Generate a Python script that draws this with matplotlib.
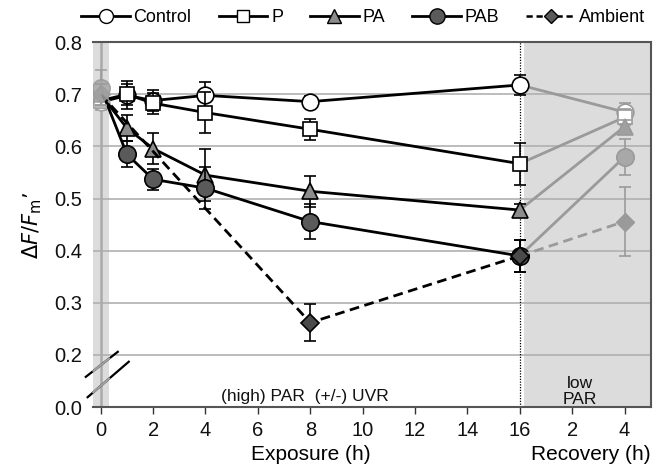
import matplotlib
matplotlib.use("Agg")
import matplotlib.pyplot as plt
from matplotlib.lines import Line2D
import numpy as np

plt.rcParams['font.family'] = ['Liberation Sans', 'DejaVu Sans']

# exposure times (h) and recovery time position (16 h + 4 h recovery)
x_exp = [0, 1, 2, 4, 8, 16]
x_exp_amb = [0, 8, 16]
x_rec = 20

control = [0.685, 0.698, 0.688, 0.698, 0.686, 0.718]
control_err = [0.015, 0.027, 0.02, 0.025, 0.01, 0.02]
control_rec, control_rec_err = 0.666, 0.018

p = [0.688, 0.700, 0.683, 0.665, 0.633, 0.567]
p_err = [0.015, 0.02, 0.02, 0.04, 0.02, 0.04]
p_rec, p_rec_err = 0.656, 0.015

pa = [0.700, 0.635, 0.596, 0.545, 0.514, 0.478]
pa_err = [0.02, 0.025, 0.03, 0.05, 0.03, 0.012]
pa_rec, pa_rec_err = 0.638, 0.012

pab = [0.712, 0.585, 0.537, 0.520, 0.456, 0.390]
pab_err = [0.035, 0.025, 0.02, 0.04, 0.033, 0.03]
pab_rec, pab_rec_err = 0.580, 0.035

amb = [0.700, 0.262, 0.390]
amb_err = [0.02, 0.036, 0.03]
amb_rec, amb_rec_err = 0.456, 0.067

xticks = [0, 2, 4, 6, 8, 10, 12, 14, 16, 18, 20]
xticklabels = ['0', '2', '4', '6', '8', '10', '12', '14', '16', '2', '4']
yticks = [0.1, 0.2, 0.3, 0.4, 0.5, 0.6, 0.7, 0.8]
yticklabels = ['0.0', '0.2', '0.3', '0.4', '0.5', '0.6', '0.7', '0.8']

fig = plt.figure(figsize=(6.54, 4.69), dpi=100)
ax = fig.add_axes([0.142, 0.132, 0.853, 0.778])
ax.set_xlim(-0.3, 21.0)
ax.set_ylim(0.1, 0.8)

GRAYBG = '#dcdcdc'
ax.axvspan(16.15, 21.0, color=GRAYBG, zorder=0, lw=0)
ax.axvspan(-0.3, 0.3, color=GRAYBG, zorder=0, lw=0)
ax.axvline(0, color='#aaaaaa', lw=1.8, zorder=0.5)
ax.axvline(16, color='black', lw=0.9, ls=(0, (1, 1.2)), zorder=0.6)
for yv in [0.2, 0.3, 0.4, 0.5, 0.6, 0.7]:
    ax.axhline(yv, color='#b0b0b0', lw=1.2, zorder=0.4)

series = [
    (control, control_err, control_rec, control_rec_err, 'o', 'white', 'white', 12, '-'),
    (p, p_err, p_rec, p_rec_err, 's', 'white', 'white', 9.5, '-'),
    (pa, pa_err, pa_rec, pa_rec_err, '^', '#8c8c8c', '#a0a0a0', 12, '-'),
    (pab, pab_err, pab_rec, pab_rec_err, 'o', '#5a5a5a', '#a8a8a8', 12.5, '-'),
]

GR = '#9a9a9a'
z = 3
for vals, err, rv, re, m, fc, rfc, ms, ls in series:
    # recovery line and point (gray)
    ax.plot([16, x_rec], [vals[-1], rv], color=GR, lw=2, ls=ls, zorder=z)
    ax.errorbar([x_rec], [rv], yerr=[re], fmt=m, ms=ms, mfc=rfc, mec=GR, mew=1.2,
                ecolor=GR, elinewidth=1.2, capsize=4, capthick=1.2, zorder=z + 1)
    # exposure line
    ax.plot(x_exp, vals, color='black', lw=2, ls=ls, zorder=z + 2)
    ax.errorbar(x_exp[1:], vals[1:], yerr=err[1:], fmt=m, ms=ms, mfc=fc, mec='black',
                mew=1.2, ecolor='black', elinewidth=1.2, capsize=4, capthick=1.2, zorder=z + 3)
    # initial point (gray)
    ax.errorbar([x_exp[0]], [vals[0]], yerr=[err[0]], fmt=m, ms=ms,
                mfc=(rfc if fc != 'white' else 'white'), mec=GR, mew=1.2, alpha=0.85,
                ecolor=GR, elinewidth=1.2, capsize=4, capthick=1.2, zorder=z + 3)
    z += 4

# ambient
ax.plot([16, x_rec], [amb[-1], amb_rec], color=GR, lw=2, ls=(0, (3.5, 2)), zorder=z)
ax.errorbar([x_rec], [amb_rec], yerr=[amb_rec_err], fmt='D', ms=9.5, mfc='#9a9a9a', mec=GR,
            ecolor=GR, elinewidth=1.2, capsize=4, capthick=1.2, zorder=z + 1)
ax.plot(x_exp_amb, amb, color='black', lw=2, ls=(0, (3.5, 2)), zorder=z + 2)
ax.errorbar(x_exp_amb[1:], amb[1:], yerr=amb_err[1:], fmt='D', ms=9.5, mfc='#4a4a4a', mec='black',
            mew=1.2, ecolor='black', elinewidth=1.2, capsize=4, capthick=1.2, zorder=z + 3)
ax.errorbar([0], [amb[0]], yerr=[amb_err[0]], fmt='D', ms=9.5, mfc='#a0a0a0', mec=GR, alpha=0.85,
            ecolor=GR, elinewidth=1.2, capsize=4, capthick=1.2, zorder=z + 3)

# axis break marks
for (x0, y0, x1, y1) in [(-0.57, 0.158, 0.65, 0.206), (-0.50, 0.119, 1.07, 0.187)]:
    ax.plot([x0, x1], [y0, y1], color='black', lw=1.6, clip_on=False, zorder=40)
    t0 = (-0.28 - x0) / (x1 - x0)
    t1 = (0.32 - x0) / (x1 - x0)
    ax.plot([x0 + t0 * (x1 - x0), x0 + t1 * (x1 - x0)],
            [y0 + t0 * (y1 - y0), y0 + t1 * (y1 - y0)], color='#a0a0a0', lw=1.6,
            clip_on=False, zorder=41)

ax.set_xticks(xticks)
ax.set_xticklabels(xticklabels, fontsize=14.5)
ax.set_yticks(yticks)
ax.set_yticklabels(yticklabels, fontsize=14.5)
ax.tick_params(axis='x', direction='out', length=5, width=1, colors='#333333',
               labelcolor='#111111', pad=5)
ax.tick_params(axis='y', length=0, pad=8, labelcolor='#111111')

for s in ['top', 'right', 'bottom']:
    ax.spines[s].set_color('#555555')
    ax.spines[s].set_linewidth(1.5)
ax.spines['left'].set_visible(False)

ax.text(7.8, 0.12, '(high) PAR  (+/-) UVR', fontsize=12.5, ha='center', va='center', color='#111111')
ax.text(18.3, 0.13, 'low\nPAR', fontsize=12.5, ha='center', va='center', color='#111111',
        linespacing=1.1)

fig.text(0.475, 0.03, 'Exposure (h)', fontsize=15, ha='center', va='center')
fig.text(0.903, 0.03, 'Recovery (h)', fontsize=15, ha='center', va='center')
fig.text(0.05, 0.52, r"$\Delta F/F_{\mathrm{m}}$’", fontsize=15, rotation=90,
         ha='center', va='center', family='DejaVu Sans', fontstyle='italic')

handles = [
    Line2D([], [], color='black', lw=2, marker='o', ms=10, mfc='white', mec='black'),
    Line2D([], [], color='black', lw=2, marker='s', ms=9, mfc='white', mec='black'),
    Line2D([], [], color='black', lw=2, marker='^', ms=10, mfc='#8c8c8c', mec='black'),
    Line2D([], [], color='black', lw=2, marker='o', ms=11, mfc='#5a5a5a', mec='black'),
    Line2D([], [], color='black', lw=1.8, ls=(0, (2.5, 1.5)), marker='D', ms=7, mfc='#5a5a5a', mec='black'),
]
fig.legend(handles, ['Control', 'P', 'PA', 'PAB', 'Ambient'], loc='center',
           bbox_to_anchor=(0.555, 0.963), ncol=5, frameon=False, fontsize=13,
           handlelength=2.7, columnspacing=1.5, handletextpad=0.2)

fig.savefig('out.png', dpi=100)
